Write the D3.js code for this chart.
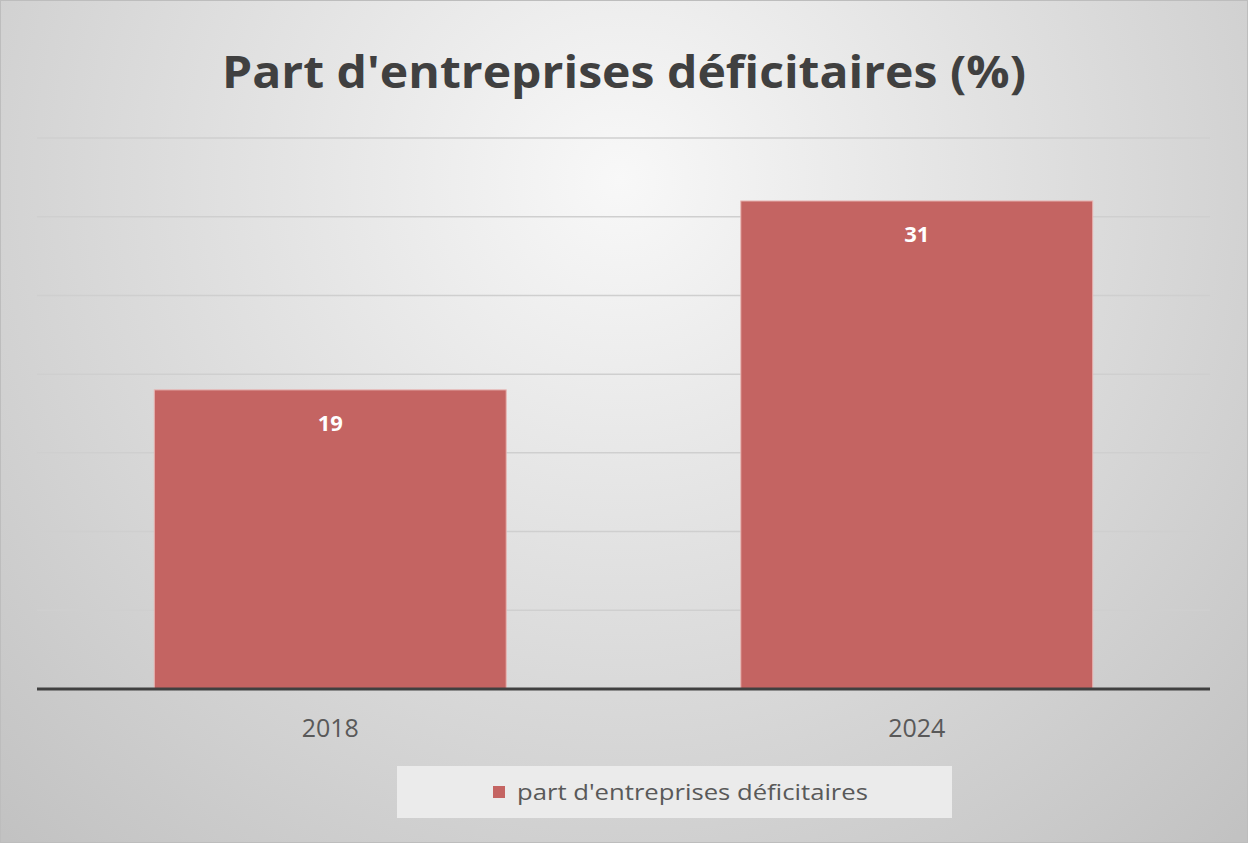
<!DOCTYPE html>
<html>
<head>
<meta charset="utf-8">
<script src="https://cdn.jsdelivr.net/npm/d3@7"></script>
<style>
  body { margin: 0; background: #fff; }
  svg text { font-family: "Open Sans", "Noto Sans", sans-serif; }
</style>
</head>
<body>
<svg id="svg_chart" width="1248" height="843"></svg>
<script>
const years = ['2018', '2024']
const shares = [19, 31]
const yTicks = [0, 5, 10, 15, 20, 25, 30, 35]
const seriesName = "part d'entreprises déficitaires"
const titleText = "Part d'entreprises déficitaires (%)"

const svg = d3.select('#svg_chart')
const width = 1248
const height = 843
const margin = { top: 138, right: 38, bottom: 154, left: 37 }

// background gradient
const defs = svg.append('defs')
const grad = defs.append('radialGradient')
  .attr('id', 'bg')
  .attr('gradientUnits', 'userSpaceOnUse')
  .attr('cx', 620).attr('cy', 180).attr('r', 900)
grad.append('stop').attr('offset', '0%').attr('stop-color', '#f8f8f8')
grad.append('stop').attr('offset', '100%').attr('stop-color', '#c2c2c2')

svg.append('rect')
  .attr('width', width).attr('height', height)
  .attr('fill', 'url(#bg)')
svg.append('rect')
  .attr('x', 0.5).attr('y', 0.5)
  .attr('width', width - 1).attr('height', height - 1)
  .attr('fill', 'none')
  .attr('stroke', '#bdbdbd')

const x = d3.scaleBand()
  .domain(years)
  .range([margin.left, width - margin.right])
  .paddingInner(0.4)
  .paddingOuter(0.2)

const y = d3.scaleLinear()
  .domain([0, 35])
  .range([height - margin.bottom, margin.top])

// gridlines
svg.append('g')
  .selectAll('line')
  .data(yTicks.slice(1))
  .enter()
  .append('line')
  .attr('x1', margin.left)
  .attr('x2', width - margin.right)
  .attr('y1', d => y(d))
  .attr('y2', d => y(d))
  .attr('stroke', '#cfcfcf')
  .attr('stroke-width', 1.5)

// bars
svg.append('g')
  .selectAll('rect')
  .data(shares)
  .enter()
  .append('rect')
  .attr('x', (d, i) => x(years[i]))
  .attr('y', d => y(d))
  .attr('width', x.bandwidth())
  .attr('height', d => y(0) - y(d))
  .attr('fill', '#c46462')
  .attr('stroke', '#e8b4b2')
  .attr('stroke-width', 1)

// value labels
svg.append('g')
  .selectAll('text')
  .data(shares)
  .enter()
  .append('text')
  .text(d => d)
  .attr('x', (d, i) => x(years[i]) + x.bandwidth() / 2)
  .attr('y', d => y(d) + 41)
  .attr('text-anchor', 'middle')
  .attr('fill', '#ffffff')
  .attr('font-weight', 'bold')
  .attr('font-size', 22)

// baseline
svg.append('line')
  .attr('x1', margin.left)
  .attr('x2', width - margin.right)
  .attr('y1', y(0))
  .attr('y2', y(0))
  .attr('stroke', '#404040')
  .attr('stroke-width', 3)

// x labels
const xAxis = d3.axisBottom(x).tickSize(0).tickPadding(0)
const xg = svg.append('g')
  .attr('transform', `translate(0, ${y(0)})`)
  .call(xAxis)
xg.select('.domain').remove()
xg.selectAll('text')
  .attr('y', 48)
  .attr('dy', 0)
  .attr('font-size', 25)
  .attr('fill', '#595959')
  .style('font-family', '"Open Sans", "Noto Sans", sans-serif')

// title
svg.append('text')
  .text(titleText)
  .attr('x', 624)
  .attr('y', 88)
  .attr('text-anchor', 'middle')
  .attr('font-size', 44)
  .attr('font-weight', 'bold')
  .attr('fill', '#404040')
  .attr('textLength', 804)
  .attr('lengthAdjust', 'spacingAndGlyphs')

// legend
const legend = svg.append('g')
legend.append('rect')
  .attr('x', 397).attr('y', 766)
  .attr('width', 555).attr('height', 52)
  .attr('fill', '#ebebeb')
legend.append('rect')
  .attr('x', 493).attr('y', 786)
  .attr('width', 12).attr('height', 12)
  .attr('fill', '#c46462')
legend.append('text')
  .text(seriesName)
  .attr('x', 517)
  .attr('y', 800)
  .attr('font-size', 22)
  .attr('fill', '#595959')
  .attr('textLength', 351)
  .attr('lengthAdjust', 'spacingAndGlyphs')
</script>
</body>
</html>
